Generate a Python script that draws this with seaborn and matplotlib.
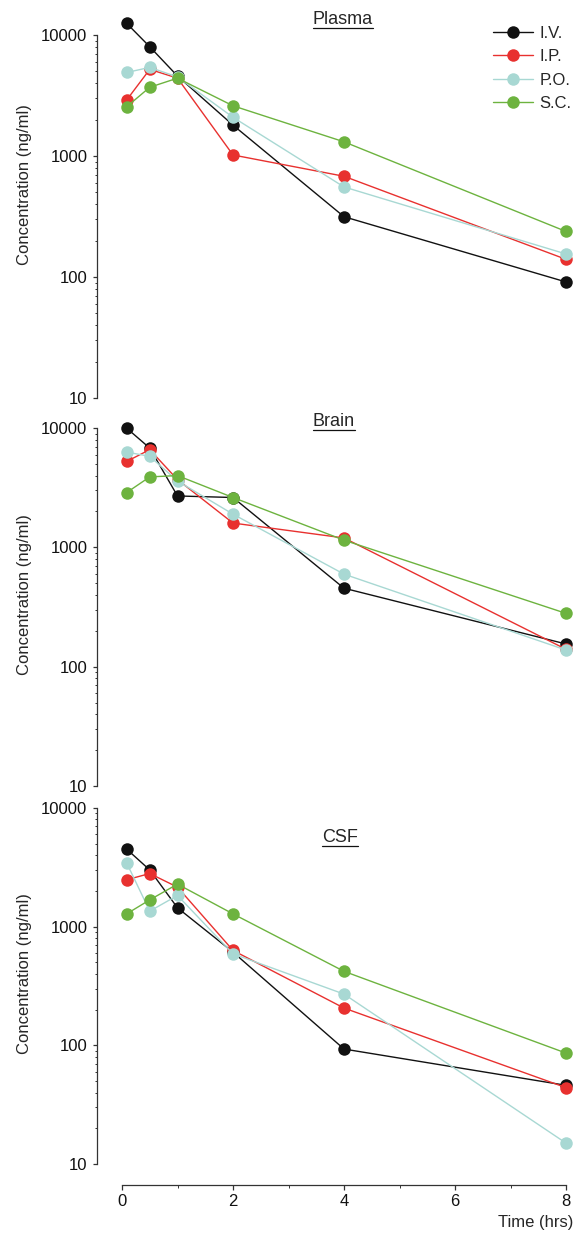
import pandas as pd
import matplotlib
matplotlib.use('Agg')
import matplotlib.pyplot as plt
import matplotlib.ticker as mticker
from matplotlib.lines import Line2D
import seaborn as sns

# %% data
times = [0.083, 0.5, 1, 2, 4, 8]
routes = ['I.V.', 'I.P.', 'P.O.', 'S.C.']
colors = ['#111111', '#e8312f', '#a8d8d3', '#6db33f']

plasma_iv = [12500, 8000, 4580, 1800, 315, 91]
plasma_ip = [2900, 5200, 4400, 1020, 680, 140]
plasma_po = [4900, 5400, 4500, 2090, 555, 155]
plasma_sc = [2550, 3700, 4400, 2600, 1310, 238]

brain_iv = [10000, 6800, 2700, 2620, 455, 155]
brain_ip = [5250, 6600, 3700, 1600, 1200, 140]
brain_po = [6300, 5800, 3600, 1900, 597, 138]
brain_sc = [2880, 3900, 4000, 2620, 1150, 280]

csf_iv = [4500, 3000, 1440, 610, 93, 46]
csf_ip = [2480, 2800, 2150, 630, 206, 44]
csf_po = [3450, 1350, 1830, 590, 270, 15]
csf_sc = [1280, 1680, 2280, 1280, 420, 86]

panels = ['Plasma', 'Brain', 'CSF']
panel_data = {
    'Plasma': [plasma_iv, plasma_ip, plasma_po, plasma_sc],
    'Brain': [brain_iv, brain_ip, brain_po, brain_sc],
    'CSF': [csf_iv, csf_ip, csf_po, csf_sc],
}

# %% style
sns.set_style('ticks')
plt.rcParams['font.family'] = ['Liberation Sans', 'DejaVu Sans']
plt.rcParams['font.size'] = 12
plt.rcParams['axes.edgecolor'] = '#333333'
plt.rcParams['xtick.color'] = '#333333'
plt.rcParams['ytick.color'] = '#333333'
plt.rcParams['xtick.labelcolor'] = '#111111'
plt.rcParams['ytick.labelcolor'] = '#111111'

W, H = 577, 1234
fig = plt.figure(figsize=(W / 100, H / 100), dpi=100)
fig.patch.set_facecolor('white')

left = 122 / W
width = 444 / W
decades = 3.204  # 10 .. 16000
bottoms_px = [398, 786, 1164]
px_per_decade = [121, 119.3, 118.7]
title_px = [(343, 20), (334, 422), (340, 838)]
ylabel_y = [0.55, 0.5, 0.5]

axes = []
for i, name in enumerate(panels):
    h_px = decades * px_per_decade[i]
    ax = fig.add_axes([left, (H - bottoms_px[i]) / H, width, h_px / H])
    axes.append(ax)
    rows = []
    for r, vals in zip(routes, panel_data[name]):
        for t, v in zip(times, vals):
            rows.append({'time': t, 'conc': v, 'route': r})
    df = pd.DataFrame(rows)
    sns.lineplot(data=df, x='time', y='conc', hue='route', hue_order=routes,
                 palette=colors, marker='o', markersize=9, markeredgewidth=0,
                 linewidth=1, errorbar=None, legend=False, ax=ax, clip_on=False)

    ax.set_yscale('log')
    ax.set_ylim(10, 16000)
    ax.set_xlim(0, 8)
    ax.yaxis.set_major_locator(mticker.FixedLocator([10, 100, 1000, 10000]))
    ax.yaxis.set_major_formatter(mticker.FuncFormatter(lambda v, _: f'{v:g}'))
    minors = [m * 10 ** e for e in range(1, 4) for m in range(2, 10)]
    ax.yaxis.set_minor_locator(mticker.FixedLocator(minors))
    ax.yaxis.set_minor_formatter(mticker.NullFormatter())
    ax.tick_params(axis='y', which='major', length=3, width=0.9, pad=4, labelsize=12)
    ax.tick_params(axis='y', which='minor', length=1.8, width=0.7)

    for s in ['top', 'right']:
        ax.spines[s].set_visible(False)
    ax.spines['left'].set_position(('outward', 18))
    ax.spines['left'].set_bounds(10, 10000)
    ax.spines['left'].set_linewidth(0.9)

    ax.set_ylabel('Concentration (ng/ml)', fontsize=12)
    ax.yaxis.set_label_coords(-0.203, ylabel_y[i])

    if i < 2:
        ax.spines['bottom'].set_visible(False)
        ax.set_xticks([])
        ax.set_xlabel('')
    else:
        ax.spines['bottom'].set_position(('outward', 15))
        ax.spines['bottom'].set_bounds(0, 8)
        ax.spines['bottom'].set_linewidth(0.9)
        ax.set_xticks([0, 2, 4, 6, 8])
        ax.xaxis.set_minor_locator(mticker.FixedLocator([1, 3, 5, 7]))
        ax.tick_params(axis='x', which='major', length=3.5, width=0.9, labelsize=12, pad=3)
        ax.tick_params(axis='x', which='minor', length=2, width=0.7)
        ax.set_xlabel('Time (hrs)', fontsize=12, ha='right', va='center')
        ax.xaxis.set_label_coords(1.016, -58 / h_px)

    tx = (title_px[i][0] - 122) / 444
    ty = (bottoms_px[i] - title_px[i][1]) / h_px
    ax.text(tx, ty, name, transform=ax.transAxes,
            ha='center', va='center', fontsize=13)

# legend in top panel
top_h = decades * px_per_decade[0]
handles = axes[0].get_lines()[:4]
axes[0].legend(handles, routes, loc='upper left',
               bbox_to_anchor=((493 - 122) / 444, (398 - 26) / top_h),
               frameon=False, fontsize=12, handlelength=2.4, handletextpad=0.4,
               labelspacing=0.5, borderpad=0, borderaxespad=0, markerscale=1.0)

# underline the panel titles
fig.canvas.draw()
renderer = fig.canvas.get_renderer()
for ax in axes:
    for t in ax.texts:
        bb = t.get_window_extent(renderer)
        y = bb.y0 + 1
        fig.add_artist(Line2D([bb.x0 / W, bb.x1 / W], [y / H, y / H],
                              color='#111111', linewidth=0.9))

fig.savefig('out.png', dpi=100, facecolor='white')
